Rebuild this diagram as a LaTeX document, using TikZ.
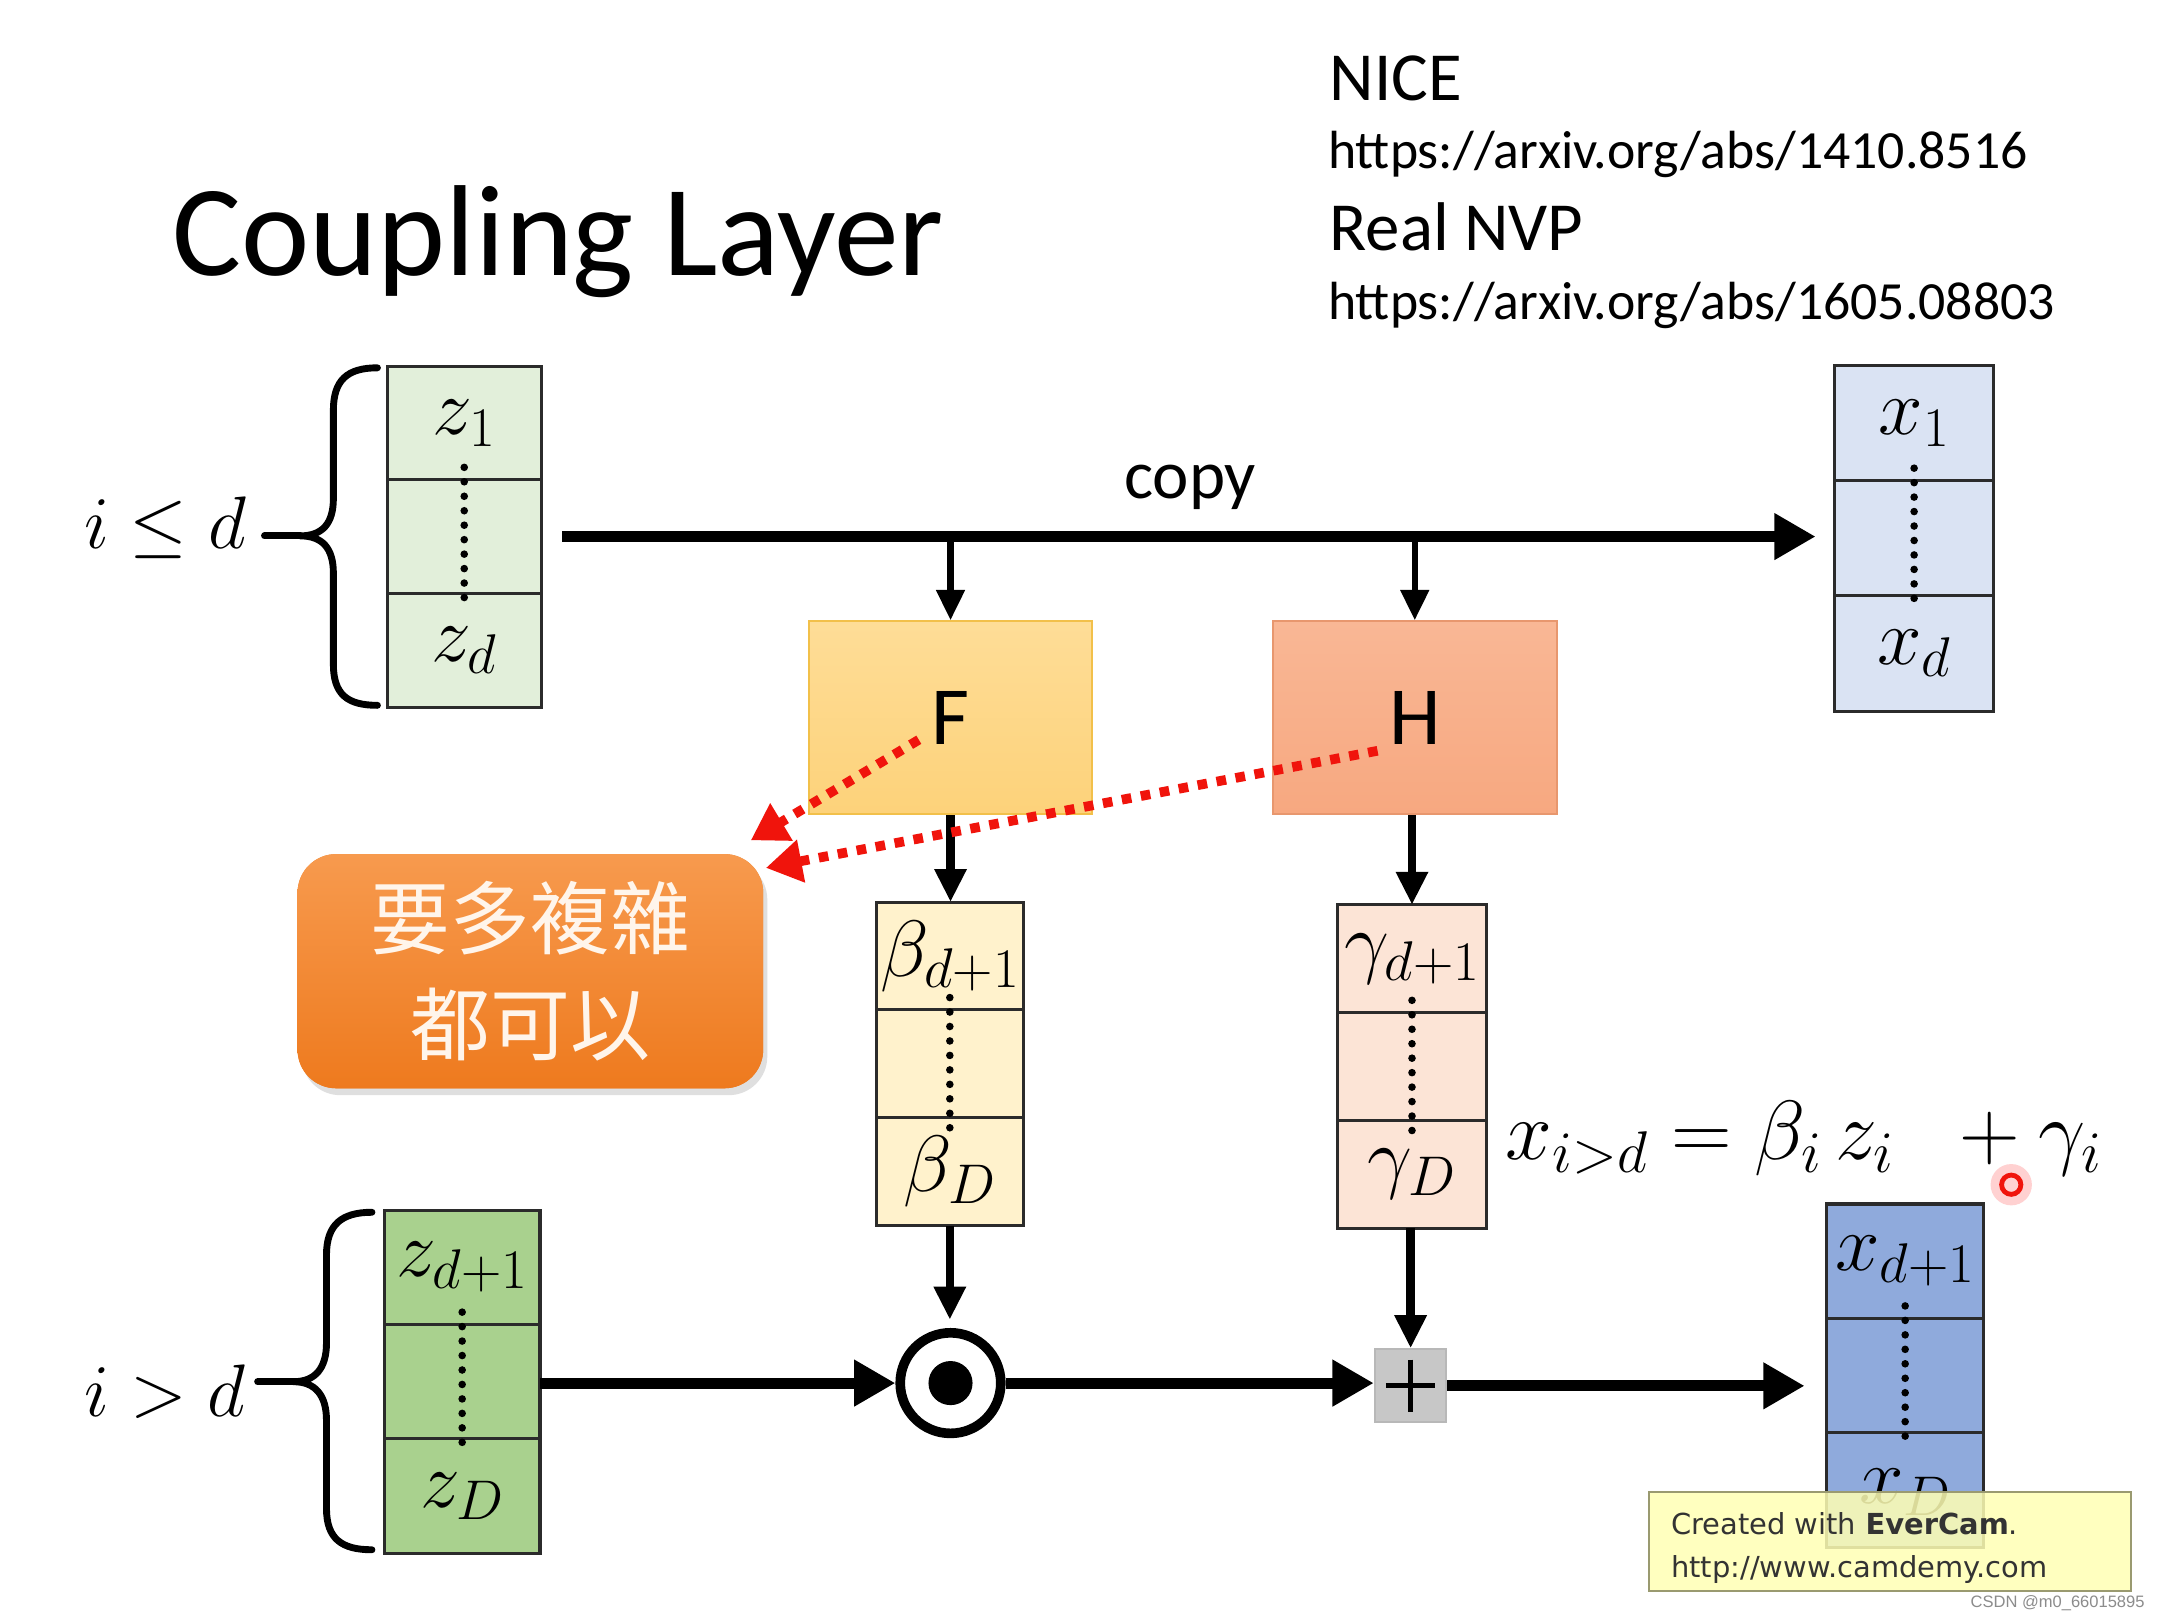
\RequirePackage{fix-cm}
\documentclass[tikz,border=0pt]{standalone}
\usepackage{fontspec}
\setmainfont{Carlito}
\newfontfamily\cjk{Noto Sans CJK TC}
\newfontfamily\dvs{DejaVu Sans}
\newfontfamily\lbs{Liberation Sans}
\usetikzlibrary{arrows.meta,shadows,calc}
\definecolor{zlight}{HTML}{E2EFDA}
\definecolor{zdark}{HTML}{A9D18E}
\definecolor{betac}{HTML}{FFF2CC}
\definecolor{gammac}{HTML}{FCE4D6}
\definecolor{xlight}{HTML}{DAE3F3}
\definecolor{xdark}{HTML}{8FAADC}
\definecolor{ftop}{HTML}{FEDD97}
\definecolor{fbot}{HTML}{FDD27A}
\definecolor{fbord}{HTML}{F2C04A}
\definecolor{htop}{HTML}{F9B795}
\definecolor{hbot}{HTML}{F7A880}
\definecolor{hbord}{HTML}{E8976E}
\definecolor{otop}{HTML}{F79A4E}
\definecolor{obot}{HTML}{EE7A1E}
\definecolor{redc}{HTML}{F0140C}
\definecolor{cellbord}{HTML}{2B2B2B}
\definecolor{wmfill}{HTML}{FFFFB4}
\definecolor{wmbord}{HTML}{9A9A70}
\newcommand{\labfont}{\fontsize{58}{60}\selectfont}
\begin{document}
\begin{tikzpicture}[x=1pt,y=-1pt,
  cell/.style={draw=cellbord, line width=2.2pt, inner sep=0pt, outer sep=0pt, font=\labfont},
  zcell/.style={cell, minimum width=112pt, minimum height=82.5pt},
  bigarrow/.style={draw=black, line width=8pt, -{Triangle[length=30pt,width=32pt]}},
  midarrow/.style={draw=black, line width=6pt, -{Triangle[length=24pt,width=22pt]}},
  smallarrow/.style={draw=black, line width=4.5pt, -{Triangle[length=22pt,width=20pt]}},
  reddot/.style={draw=redc, line width=7pt, dash pattern=on 7pt off 7pt, -{Triangle[length=26pt,width=30pt]}},
  dotcol/.style={line width=5.5pt, line cap=round, dash pattern=on 0pt off 10.5pt},
  brace/.style={line width=5pt, line cap=round, line join=round},
  funcbox/.style={minimum width=206pt, minimum height=140pt, line width=1.5pt, font=\fontsize{60}{60}\selectfont, inner sep=0pt}
]
\useasboundingbox (0,0) rectangle (1568,1176);
\fill[white] (0,0) rectangle (1568,1176);

% title and references
\node[anchor=base west, inner sep=0pt, font=\fontsize{94}{94}\selectfont] (title) at (125,200) {Coupling Layer};
\node[anchor=base west, inner sep=0pt, font=\fontsize{50}{50}\selectfont] (nice) at (965,73) {NICE};
\node[anchor=base west, inner sep=0pt, font=\fontsize{39}{39}\selectfont] (url1) at (964,122) {https://arxiv.org/abs/1410.8516};
\node[anchor=base west, inner sep=0pt, font=\fontsize{50}{50}\selectfont] (nvp) at (965,182) {Real NVP};
\node[anchor=base west, inner sep=0pt, font=\fontsize{39}{39}\selectfont] (url2) at (964,232) {https://arxiv.org/abs/1605.08803};

% top z block
\node[zcell, fill=zlight] (zt1) at (337,307) {$z_1$};
\node[zcell, fill=zlight] (zt2) at (337,389.5) {};
\node[zcell, fill=zlight] (zt3) at (337,472) {$z_d$};
\draw[dotcol] ($(zt2.north)+(0,-9)$) -- ($(zt2.south)+(0,8)$);

% top x block
\node[cell, fill=xlight, minimum width=115pt, minimum height=83.7pt] (xt1) at (1389.5,307) {$x_1$};
\node[cell, fill=xlight, minimum width=115pt, minimum height=83.7pt] (xt2) at (1389.5,390.7) {};
\node[cell, fill=xlight, minimum width=115pt, minimum height=83.7pt] (xt3) at (1389.5,474.4) {$x_d$};
\draw[dotcol] ($(xt2.north)+(0,-9)$) -- ($(xt2.south)+(0,8)$);

% bottom z block
\node[cell, fill=zdark, minimum width=113pt, minimum height=83pt] (zb1) at (335.5,920) {$z_{d+1}$};
\node[cell, fill=zdark, minimum width=113pt, minimum height=83pt] (zb2) at (335.5,1003) {};
\node[cell, fill=zdark, minimum width=113pt, minimum height=83pt] (zb3) at (335.5,1086) {$z_D$};
\draw[dotcol] ($(zb2.north)+(0,-9)$) -- ($(zb2.south)+(0,8)$);

% bottom x block
\node[cell, fill=xdark, minimum width=114pt, minimum height=83pt] (xb1) at (1383,915.5) {$x_{d+1}$};
\node[cell, fill=xdark, minimum width=114pt, minimum height=83pt] (xb2) at (1383,998.5) {};
\node[cell, fill=xdark, minimum width=114pt, minimum height=83pt] (xb3) at (1383,1081.5) {};
\node[anchor=north, inner sep=0pt, font=\labfont] (xbl) at (1383,1066) {$x_D$};
\draw[dotcol] ($(xb2.north)+(0,-9)$) -- ($(xb2.south)+(0,8)$);

% beta and gamma blocks
\node[cell, fill=betac, minimum width=107pt, minimum height=78.3pt] (b1) at (689.5,694) {$\beta_{d+1}$};
\node[cell, fill=betac, minimum width=107pt, minimum height=78.3pt] (b2) at (689.5,772.3) {};
\node[cell, fill=betac, minimum width=107pt, minimum height=78.3pt] (b3) at (689.5,850.6) {$\beta_D$};
\draw[dotcol] ($(b2.north)+(0,-9)$) -- ($(b2.south)+(0,8)$);
\node[cell, fill=gammac, minimum width=108pt, minimum height=78.3pt] (g1) at (1025,696) {$\gamma_{d+1}$};
\node[cell, fill=gammac, minimum width=108pt, minimum height=78.3pt] (g2) at (1025,774.3) {};
\node[cell, fill=gammac, minimum width=108pt, minimum height=78.3pt] (g3) at (1025,852.6) {$\gamma_D$};
\draw[dotcol] ($(g2.north)+(0,-9)$) -- ($(g2.south)+(0,8)$);

% F and H
\node[funcbox, draw=fbord, top color=ftop, bottom color=fbot] (F) at (690,521) {F};
\node[funcbox, draw=hbord, top color=htop, bottom color=hbot] (H) at (1027,521) {H};

% operators
\node[circle, draw=black, line width=7pt, minimum size=73pt, inner sep=0pt] (odot) at (690,1004) {};
\fill (odot.center) circle (16pt);
\node[draw=black!28, fill=black!22, line width=1.5pt, minimum width=52pt, minimum height=53pt, inner sep=0pt] (plus) at (1024,1006) {};
\draw[line width=3.5pt] ($(plus.center)+(-18,0)$) -- ($(plus.center)+(18,0)$);
\draw[line width=3.5pt] ($(plus.center)+(0,-19)$) -- ($(plus.center)+(0,19)$);

% braces and conditions
\draw[brace] (274,267) .. controls (252,267) and (242,276) .. (242,298) -- (242,362) .. controls (242,380) and (234,389) .. (218,389)
  .. controls (234,389) and (242,398) .. (242,416) -- (242,482) .. controls (242,504) and (252,512) .. (274,512);
\draw[brace] (192,389) -- (218,389);
\node[anchor=center, inner sep=0pt, font=\fontsize{54}{54}\selectfont] (cond1) at (120,383) {$i\leq d$};
\draw[brace] (270,880) .. controls (248,880) and (237,889) .. (237,911) -- (237,975) .. controls (237,993) and (229,1003) .. (213,1003)
  .. controls (229,1003) and (237,1013) .. (237,1031) -- (237,1095) .. controls (237,1117) and (248,1125) .. (270,1125);
\draw[brace] (187,1003) -- (213,1003);
\node[anchor=center, inner sep=0pt, font=\fontsize{54}{54}\selectfont] (cond2) at (120,1010) {$i > d$};

% copy line
\draw[bigarrow, shorten <=15pt, shorten >=14pt] (zt2.east) -- (zt2.east -| xt2.west);
\node[anchor=base, inner sep=0pt, font=\fontsize{50}{50}\selectfont] (copy) at (864,362) {copy};
\draw[smallarrow] (F.north |- zt2.east) -- (F.north);
\draw[smallarrow] (H.north |- zt2.east) -- (H.north);

% to beta / gamma
\draw[midarrow] (F.south) -- (F.south |- b1.north);
\draw[midarrow] (g1.north |- H.south) -- (g1.north);

% to operators
\draw[midarrow, shorten >=6pt] (b3.south) -- (b3.south |- odot.north);
\draw[midarrow] (g3.south -| plus.north) -- (plus.north);
\draw[bigarrow] (zb2.east |- odot.west) -- (odot.west);
\draw[bigarrow] (odot.east) -- (odot.east -| plus.west);
\draw[bigarrow, shorten >=16pt] (plus.east) -- (plus.east -| xb2.west);

% equation
\node[anchor=base west, inner sep=0pt, font=\fontsize{61}{61}\selectfont] (eq) at (1093,842) {$x_{i>d} = \beta_i\, z_i\;\; + \gamma_i$};

% orange box
\node[rounded corners=28pt, fill=obot, top color=otop, bottom color=obot, minimum width=338pt, minimum height=170pt,
  drop shadow={shadow xshift=3pt, shadow yshift=-5pt, opacity=0.25}, text=white!92!orange, align=center,
  font=\cjk\fontsize{58}{77}\selectfont] (cx) at (385,705) {要多複雜\\都可以};

% red dotted arrows
\coordinate (fs) at (667,537);
\coordinate (hs) at (1000,545);
\coordinate (t1) at (545,610);
\coordinate (t2) at (556,630);
\draw[reddot] (fs) -- (t1);
\draw[reddot] (hs) -- (t2);

% cursor mark
\fill[red, opacity=0.18] (1460,860) circle (15pt);
\draw[redc, line width=3.5pt] (1460,860) circle (7pt);

% watermark
\node[draw=wmbord, fill=wmfill, fill opacity=0.85, line width=1.5pt, minimum width=350pt, minimum height=72pt] (wm) at (1372,1119) {};
\node[anchor=base west, inner sep=0pt, text=black!80, font=\dvs\fontsize{21}{21}\selectfont] (wm1) at (1213,1114) {Created with \textbf{EverCam}.};
\node[anchor=base west, inner sep=0pt, text=black!80, font=\dvs\fontsize{21}{21}\selectfont] (wm2) at (1213,1145) {http://www.camdemy.com};
\node[anchor=east, inner sep=0pt, text=black!45, font=\lbs\fontsize{12}{12}\selectfont] (csdn) at (1557,1164) {CSDN @m0\_66015895};
\end{tikzpicture}
\end{document}
